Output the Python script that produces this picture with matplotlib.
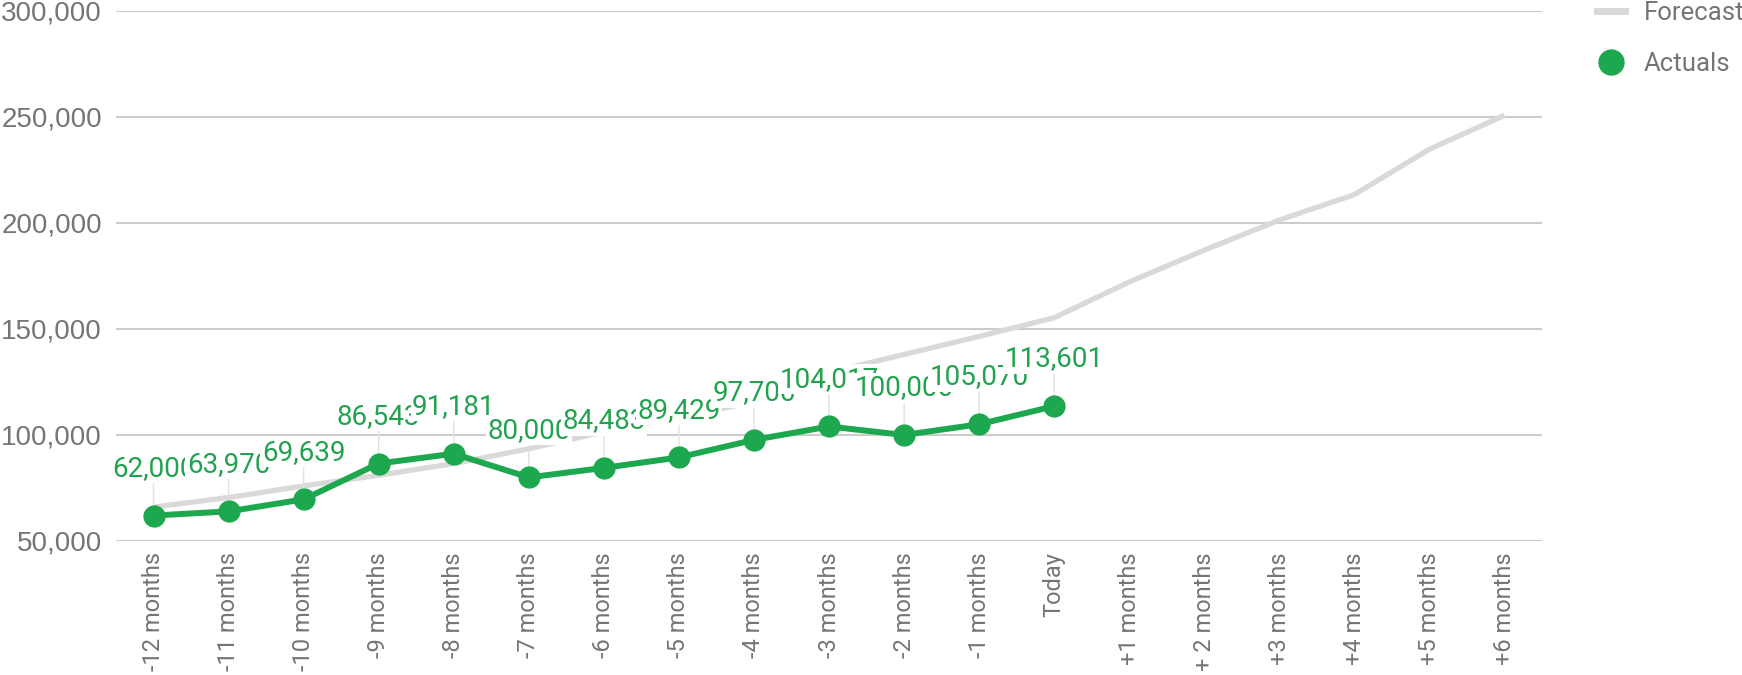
import matplotlib
matplotlib.use("Agg")
import matplotlib.pyplot as plt
from matplotlib.lines import Line2D
from matplotlib.ticker import FuncFormatter

categories = ["-12 months", "-11 months", "-10 months", "-9 months", "-8 months",
              "-7 months", "-6 months", "-5 months", "-4 months", "-3 months",
              "-2 months", "-1 months", "Today", "+1 months", "+ 2 months",
              "+3 months", "+4 months", "+5 months", "+6 months"]
forecast = [66000, 70500, 76000, 81000, 86500, 93500, 101500, 108500, 115500,
            129500, 138000, 146500, 155300, 172200, 187200, 201400, 213400,
            234800, 250800]
actuals = [62000, 63970, 69639, 86543, 91181, 80000, 84483, 89429, 97700,
           104017, 100000, 105070, 113601]
y_ticks = [50000, 100000, 150000, 200000, 250000, 300000]

GREEN = "#1DA84F"
LABEL_GREEN = "#22A24F"
GRAY_LINE = "#D9D9D9"
GRID = "#CCCCCC"
TEXT = "#757575"

plt.rcParams['font.family'] = ['Roboto', 'DejaVu Sans']

fig = plt.figure(figsize=(17.42, 6.75), dpi=100)
ax = fig.add_axes([116/1742, 1-541/675, (1542-116)/1742, (541-11)/675])

x_all = list(range(len(categories)))
x_act = list(range(len(actuals)))

ax.plot(x_all, forecast, color=GRAY_LINE, lw=3.8, zorder=2, solid_capstyle='butt')
ax.plot(x_act, actuals, color=GREEN, lw=4.3, marker='o', markersize=15,
        zorder=4)

for i, v in zip(x_act, actuals):
    ax.annotate(f"{v:,}", xy=(i, v), xytext=(0, 34), textcoords='offset points',
                ha='center', va='center', fontsize=20, color=LABEL_GREEN,
                bbox=dict(boxstyle='square,pad=0.05', fc='white', ec='none'),
                arrowprops=dict(arrowstyle='-', color='#E2E2E2', lw=1,
                                shrinkA=0, shrinkB=7),
                zorder=3 + i * 0.01)

ax.set_xlim(-0.5, len(categories) - 0.5)
ax.set_ylim(50000, 300000)
ax.set_yticks(y_ticks)
ax.yaxis.set_major_formatter(FuncFormatter(lambda v, p: f"{int(v):,}"))
ax.set_xticks(x_all)
ax.set_xticklabels(categories, rotation=90, va='top', ha='center')
ax.tick_params(axis='x', length=0, pad=8, labelsize=17, labelcolor=TEXT)
ax.tick_params(axis='y', length=0, pad=10, labelsize=20, labelcolor=TEXT)
for lbl in ax.get_yticklabels():
    lbl.set_family(['Liberation Sans', 'DejaVu Sans'])
ax.grid(axis='y', color=GRID, lw=1.5)
ax.grid(axis='x', visible=False)
ax.set_axisbelow(True)
for s in ax.spines.values():
    s.set_visible(False)

handles = [Line2D([], [], color=GRAY_LINE, lw=5),
           Line2D([], [], color=GREEN, marker='o', markersize=18, lw=0)]
fig.legend(handles, ["Forecast", "Actuals"], loc='upper left',
           bbox_to_anchor=(1574/1742, 1 + 22/675), frameon=False,
           fontsize=18.5, labelcolor=TEXT, handlelength=1.1, handletextpad=0.7,
           labelspacing=1.05)

fig.savefig("out.png", dpi=100)
